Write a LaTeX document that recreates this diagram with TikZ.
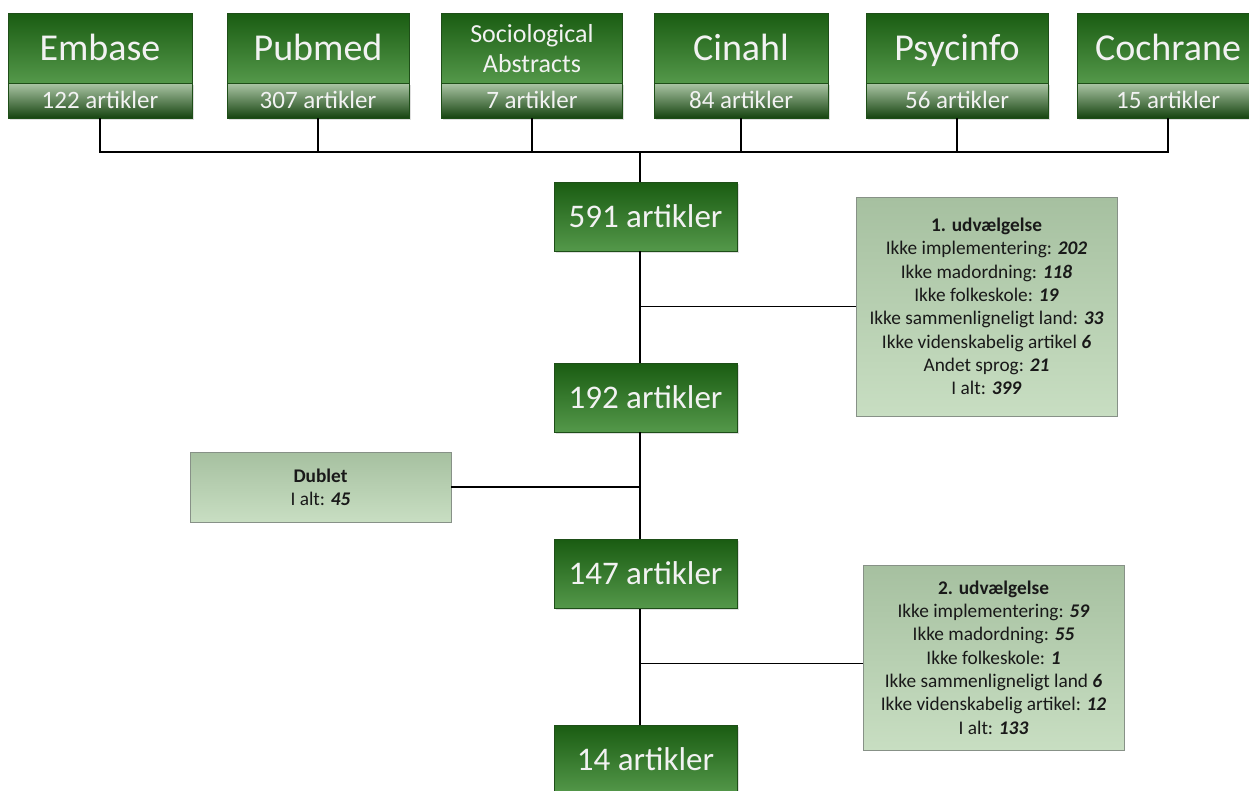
\documentclass[tikz,border=0pt]{standalone}
\usepackage{fontspec}
\setmainfont{Carlito}
\usetikzlibrary{shadows}

\definecolor{gtop}{RGB}{26,92,18}
\definecolor{gbot}{RGB}{84,152,74}
\definecolor{ctop}{RGB}{172,198,166}
\definecolor{cbot}{RGB}{22,68,16}
\definecolor{gedge}{RGB}{30,78,24}
\definecolor{itop}{RGB}{166,192,160}
\definecolor{ibot}{RGB}{200,222,194}
\definecolor{iedge}{RGB}{135,145,135}

\tikzset{
  dbname/.style={draw=gedge,line width=.6pt,top color=gtop,bottom color=gbot,
    text=white!95!black,minimum width=#1,minimum height=70pt,inner sep=0pt,
    font=\fontsize{38}{40}\selectfont,text height=24.5pt,text depth=0pt},
  dbcount/.style={draw=gedge,line width=.6pt,top color=ctop,bottom color=cbot,
    text=white!95!black,minimum width=#1,minimum height=35pt,inner sep=0pt,
    font=\fontsize{25}{27}\selectfont,text height=16pt,text depth=0pt,
    drop shadow={shadow xshift=1.5pt,shadow yshift=-1.5pt,opacity=.25}},
  countbox/.style={draw=gedge,line width=.6pt,top color=gtop,bottom color=gbot,
    text=white!95!black,minimum width=183pt,minimum height=69pt,inner sep=0pt,
    font=\fontsize{33}{36}\selectfont,text height=21pt,text depth=0pt,
    drop shadow={shadow xshift=1.5pt,shadow yshift=-1.5pt,opacity=.25}},
  infobox/.style={draw=iedge,line width=.8pt,top color=itop,bottom color=ibot,
    text=black!90,align=center,minimum width=261pt,inner sep=0pt,
    font=\fontsize{19.3}{23.3}\selectfont},
  link/.style={line width=1.8pt},
}

\begin{document}
\begin{tikzpicture}[x=1pt,y=-1pt]
  \useasboundingbox (0,0) rectangle (1249,790);

  %% databases
  \node[dbcount=184pt] (embaseN) at (100,100.5) {122 artikler};
  \node[dbname=184pt]  (embase)  at (100,48) {Embase};
  \node[dbcount=182pt] (pubmedN) at (318,100.5) {307 artikler};
  \node[dbname=182pt]  (pubmed)  at (318,48) {Pubmed};
  \node[dbcount=181pt] (socioN)  at (532,100.5) {7 artikler};
  \node[dbname=181pt,text height=,align=center,font=\fontsize{26}{30}\selectfont]
    (socio) at (532,48) {Sociological\\Abstracts};
  \node[dbcount=174pt] (cinahlN) at (741,100.5) {84 artikler};
  \node[dbname=174pt]  (cinahl)  at (741,48) {Cinahl};
  \node[dbcount=182pt] (psycN)   at (957,100.5) {56 artikler};
  \node[dbname=182pt]  (psyc)    at (957,48) {Psycinfo};
  \node[dbcount=182pt] (cochN)   at (1168,100.5) {15 artikler};
  \node[dbname=182pt]  (coch)    at (1168,48) {Cochrane};

  %% bus
  \coordinate (bus) at (640,152);
  \draw[link] (embaseN.south) |- (bus);
  \draw[link] (cochN.south) |- (bus);
  \foreach \db in {pubmedN,socioN,cinahlN,psycN}
    \draw[link] (\db.south) -- (\db.south |- bus);

  %% counts
  \node[countbox] (n591) at (645.5,216.5) {591 artikler};
  \node[countbox] (n192) at (645.5,397.5) {192 artikler};
  \node[countbox] (n147) at (645.5,574) {147 artikler};
  \node[countbox] (n14)  at (645.5,759.5) {14 artikler};

  %% spine
  \draw[link] (bus) -- (n591.north -| bus);
  \draw[link] (n591.south -| bus) -- (n192.north -| bus);
  \draw[link] (n192.south -| bus) -- (n147.north -| bus);
  \draw[link] (n147.south -| bus) -- (n14.north -| bus);

  %% exclusions
  \node[infobox,minimum height=219pt] (sel1) at (986.5,306.5)
    {\textbf{1. udvælgelse}\\
     Ikke implementering: \textbf{\textit{202}}\\
     Ikke madordning: \textbf{\textit{118}}\\
     Ikke folkeskole: \textbf{\textit{19}}\\
     Ikke sammenligneligt land: \textbf{\textit{33}}\\
     Ikke videnskabelig artikel \textbf{\textit{6}}\\
     Andet sprog: \textbf{\textit{21}}\\
     I alt: \textbf{\textit{399}}};
  \node[infobox,minimum height=70pt] (dublet) at (320.5,487)
    {\textbf{Dublet}\\
     I alt: \textbf{\textit{45}}};
  \node[infobox,minimum height=185pt] (sel2) at (993.5,657.5)
    {\textbf{2. udvælgelse}\\
     Ikke implementering: \textbf{\textit{59}}\\
     Ikke madordning: \textbf{\textit{55}}\\
     Ikke folkeskole: \textbf{\textit{1}}\\
     Ikke sammenligneligt land \textbf{\textit{6}}\\
     Ikke videnskabelig artikel: \textbf{\textit{12}}\\
     I alt: \textbf{\textit{133}}};

  \draw[link] (sel1.west) -- (sel1.west -| bus);
  \draw[link] (dublet.east) -- (dublet.east -| bus);
  \draw[link] ([yshift=-6pt]sel2.west) -- ([yshift=-6pt]sel2.west -| bus);
\end{tikzpicture}
\end{document}
